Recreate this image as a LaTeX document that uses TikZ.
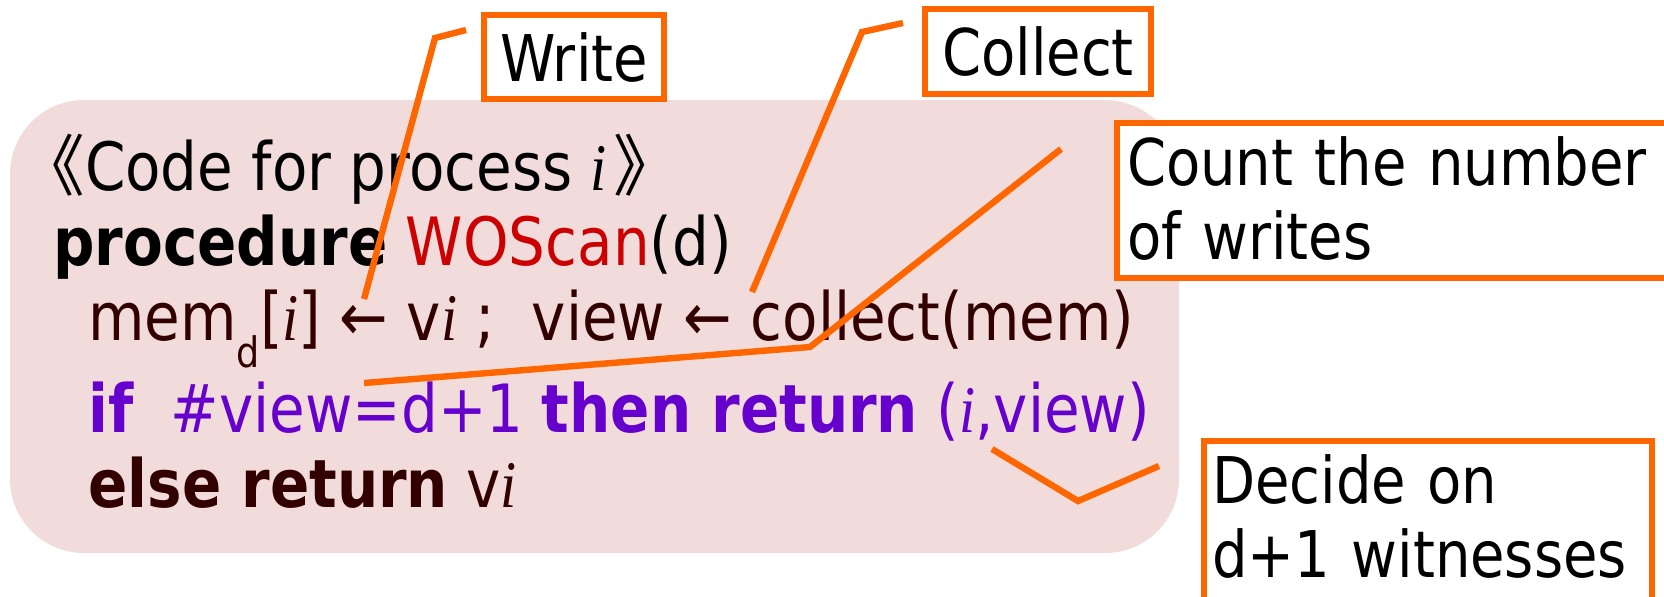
\documentclass[tikz,border=0pt]{standalone}
\usepackage{fontspec}
\setmainfont{DejaVu Sans}[FakeStretch=0.87]
\newfontfamily\serifi{Liberation Serif}[FakeStretch=0.87]
\newfontfamily\cjk{Noto Sans CJK SC}
\usetikzlibrary{positioning}
\definecolor{hiorange}{HTML}{FF6600}
\definecolor{codebg}{HTML}{F2DCDB}
\definecolor{codebrown}{HTML}{330000}
\definecolor{codepurple}{HTML}{6600CC}
\definecolor{codered}{HTML}{CC0000}
\newcommand{\ivar}{{\serifi\itshape i}}

\begin{document}
\begin{tikzpicture}[x=0.5pt, y=-0.5pt,
    codeline/.style={anchor=base west, inner sep=0pt, font=\fontsize{33.3}{37}\selectfont},
    notebox/.style={draw=hiorange, line width=3pt, fill=white, inner sep=0pt, font=\fontsize{32.2}{37}\selectfont},
    link/.style={draw=hiorange, line width=3.2pt}]
    \useasboundingbox (0,0) rectangle (1664,596);
    \clip (0,0) rectangle (1664,596);

    % code panel
    \fill[codebg, rounded corners=37pt] (10,100) rectangle (1179,553);
    \node[codeline] (head) at (18,190) {{\cjk 《}Code for process \ivar\hspace{3pt}{\cjk 》}};
    \node[codeline] (proc) at (53,265) {\textbf{procedure} \textcolor{codered}{WOScan}(d)};
    \node[codeline, text=codebrown] (memline) at (88,340)
        {mem\raisebox{-0.42em}{\fontsize{21}{21}\selectfont d}[\ivar] ← v\ivar\ ;\ \ view ← collect(mem)};
    \node[codeline, text=codepurple] (ifline) at (88,432)
        {\textbf{if}\ \ \#view=d+1 \textbf{then return} (\ivar,view)};
    \node[codeline, text=codebrown] (elseline) at (88,507) {\textbf{else return} v\ivar};

    % notes
    \node[notebox, minimum width=90pt, minimum height=42pt] (write) at (574,57) {Write};
    \node[notebox, minimum width=113pt, minimum height=42.5pt] (collect) at (1038,51.5) {Collect};
    \node[notebox, anchor=north west, inner xsep=5pt, text width=283pt, align=left] (count) at (1114,120)
        {\rule{0pt}{31pt}Count the number\\of writes\rule[-9.5pt]{0pt}{0pt}};
    \node[notebox, anchor=north west, inner xsep=4pt, text width=216pt, align=left] (decide) at (1201,438)
        {\rule{0pt}{31pt}Decide on\\d+1 witnesses\rule[-23pt]{0pt}{0pt}};

    % pointers
    \coordinate (w0) at (364,299); \coordinate (w1) at (435,38); \coordinate (w2) at (466,30);
    \coordinate (c0) at (752,292); \coordinate (c1) at (862,32); \coordinate (c2) at (903,23);
    \coordinate (n0) at (364,383); \coordinate (n1) at (810,347); \coordinate (n2) at (1061,149);
    \coordinate (d0) at (992,449); \coordinate (d1) at (1078,501); \coordinate (d2) at (1159,466);
    \draw[link] (w0) -- (w1) -- (w2);
    \draw[link] (c0) -- (c1) -- (c2);
    \draw[link] (n0) -- (n1) -- (n2);
    \draw[link] (d0) -- (d1) -- (d2);
\end{tikzpicture}
\end{document}
